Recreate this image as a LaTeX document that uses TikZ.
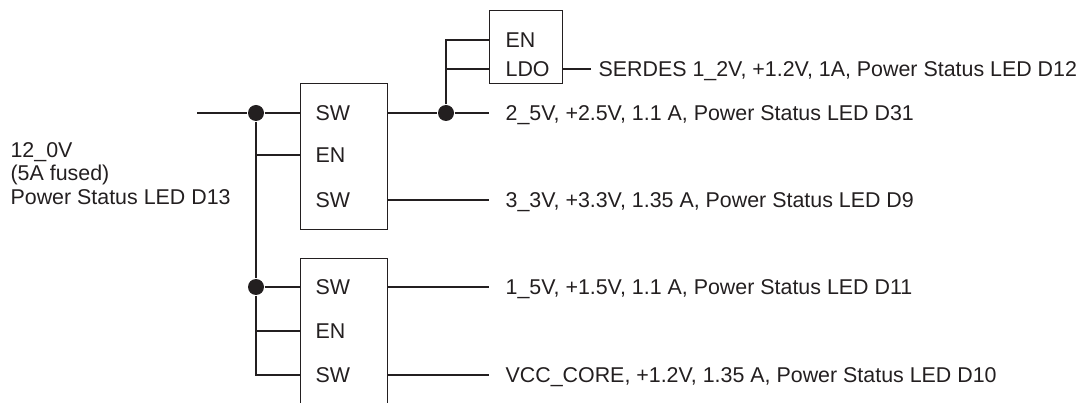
\documentclass[tikz,border=0pt]{standalone}
\usepackage{fontspec}
\setmainfont{Liberation Sans}
\definecolor{ink}{RGB}{35,31,32}
\begin{document}
\begin{tikzpicture}[x=1pt,y=-1pt,line width=1.2pt,draw=ink,
  lbl/.style={anchor=base west,inner sep=0pt,yshift=-7.5pt,text=ink,font=\fontsize{21.4}{23}\selectfont},
  blk/.style={draw=ink,inner sep=0pt,anchor=north west},
  jdot/.style={circle,fill=ink,draw=none,inner sep=0pt,minimum size=16pt}]
\useasboundingbox (0,0) rectangle (1085,403);
% blocks
\node[blk,minimum width=87pt,minimum height=146pt] (b1) at (300,83) {};
\node[blk,minimum width=87pt,minimum height=170pt] (b2) at (300,258) {};
\node[blk,minimum width=73pt,minimum height=73pt] (ldo) at (489,10) {};
% pin labels
\node[lbl] (b1sw1) at (315,113) {SW};
\node[lbl] (b1en) at (315,155) {EN};
\node[lbl] (b1sw2) at (315,200) {SW};
\node[lbl] (b2sw1) at (315,287) {SW};
\node[lbl] (b2en) at (315,331) {EN};
\node[lbl] (b2sw2) at (315,375) {SW};
\node[lbl] (ldoen) at (505,40) {EN};
\node[lbl] (ldoldo) at (505,69) {LDO};
% junctions
\node[jdot] (j1) at (256,113) {};
\node[jdot] (j2) at (256,287) {};
\node[jdot] (j3) at (446,113) {};
% coordinates
\coordinate (in) at (197,113);
\coordinate (ben1) at (256,155);
\coordinate (ben2) at (256,331);
\coordinate (bcor) at (256,375);
\coordinate (lc1) at (446,40);
\coordinate (lc2) at (446,69);
\coordinate (o1) at (489,113);
\coordinate (o2) at (489,200);
\coordinate (o3) at (489,287);
\coordinate (o4) at (489,375);
\coordinate (o5) at (591,69);
% output labels
\node[lbl] (t5) at (598,69) {SERDES 1\_2V, +1.2V, 1A, Power Status LED D12};
\node[lbl] (t1) at (505,113) {2\_5V, +2.5V, 1.1 A, Power Status LED D31};
\node[lbl] (t2) at (505,200) {3\_3V, +3.3V, 1.35 A, Power Status LED D9};
\node[lbl] (t3) at (505,287) {1\_5V, +1.5V, 1.1 A, Power Status LED D11};
\node[lbl] (t4) at (505,375) {VCC\_CORE, +1.2V, 1.35 A, Power Status LED D10};
\node[lbl,yshift=0pt] (l1) at (10,150) {12\_0V};
\node[lbl,yshift=0pt] (l2) at (10,173) {(5A fused)};
\node[lbl,yshift=0pt] (l3) at (10,197) {Power Status LED D13};
% connectors
\draw (in) -- (j1) -- (b1.west |- j1);
\draw (j1) -- (j2) -- (bcor) -- (b2.west |- bcor);
\draw (ben1) -- (b1.west |- ben1);
\draw (j2) -- (b2.west |- j2);
\draw (ben2) -- (b2.west |- ben2);
\draw (b1.east |- j3) -- (j3) -- (o1);
\draw (j3) -- (lc1) -- (ldo.west |- lc1);
\draw (lc2) -- (ldo.west |- lc2);
\draw (ldo.east |- o5) -- (o5);
\draw (b1.east |- o2) -- (o2);
\draw (b2.east |- o3) -- (o3);
\draw (b2.east |- o4) -- (o4);
\end{tikzpicture}
\end{document}
